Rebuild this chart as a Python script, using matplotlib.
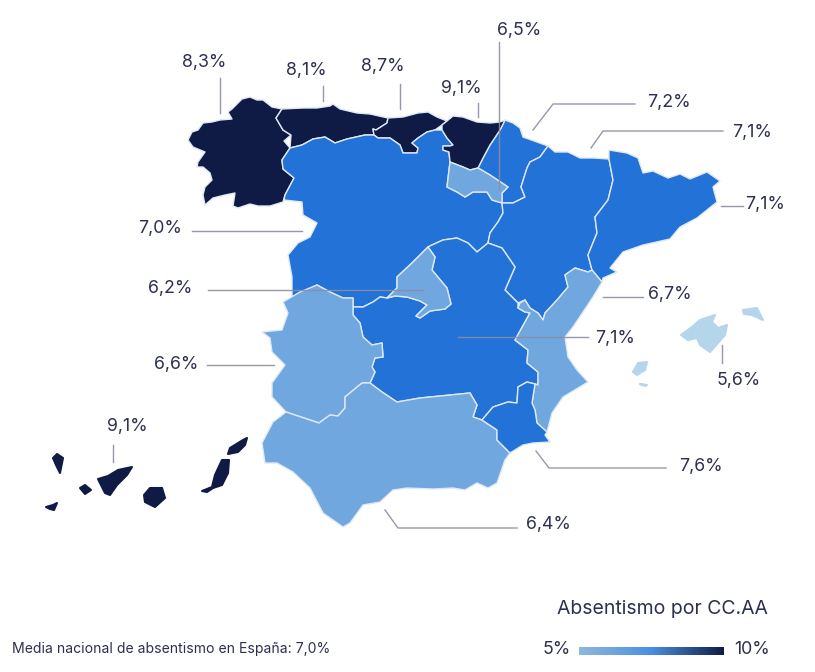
import matplotlib
matplotlib.use("Agg")
import matplotlib.pyplot as plt
import numpy as np
from matplotlib.colors import BoundaryNorm, LinearSegmentedColormap, ListedColormap
from matplotlib.patches import Polygon

plt.rcParams['font.family'] = ['Inter', 'DejaVu Sans']

# valores por comunidad
galicia = 8.3
asturias = 8.1
cantabria = 8.7
pais_vasco = 9.1
rioja = 6.5
navarra = 7.2
aragon = 7.1
cataluna = 7.1
castilla_leon = 7.0
madrid = 6.2
valencia = 6.7
castilla_mancha = 7.1
extremadura = 6.6
baleares = 5.6
murcia = 7.6
andalucia = 6.4
canarias = 9.1

galicia_xy = [(228,112),(232,109),(242,99),(250,97),(257,100),(263,100),(272,107),(282,109),(276,118),(283,130),(291,135),(284,141),(290,148),(282,160),(283,169),(294,178),(285,195),(283,202),(270,206),(258,206),(250,204),(238,208),(233,206),(235,193),(225,195),(213,198),(205,205),(203,195),(205,187),(212,180),(210,173),(203,167),(197,167),(198,162),(205,152),(193,147),(188,140),(192,132),(198,130),(203,123),(212,122),(220,120),(232,119)]
asturias_xy = [(282,109),(303,108),(317,108),(330,106),(333,104),(340,109),(357,113),(370,114),(388,118),(387,123),(376,130),(373,129),(374,135),(365,135),(347,139),(335,143),(325,137),(313,139),(302,145),(290,148),(291,135),(283,130),(276,118)]
cantabria_xy = [(388,118),(403,117),(418,113),(428,112),(437,117),(447,121),(442,125),(435,130),(427,132),(418,138),(412,143),(418,148),(417,153),(403,153),(400,145),(390,138),(378,138),(374,135),(373,129),(376,130),(387,123)]
pais_vasco_xy = [(447,121),(453,116),(463,117),(477,122),(490,123),(500,122),(505,120),(500,130),(490,145),(483,158),(478,168),(470,170),(463,167),(450,162),(449,152),(443,150),(443,146),(450,146),(453,145),(447,138),(442,130),(442,125)]
rioja_xy = [(450,162),(463,167),(470,170),(478,168),(490,175),(508,187),(502,193),(502,203),(492,200),(487,192),(473,192),(465,197),(457,192),(447,187),(449,170)]
navarra_xy = [(505,120),(513,123),(520,128),(523,137),(537,142),(548,146),(540,157),(530,162),(527,168),(521,187),(525,197),(513,203),(502,203),(502,193),(508,187),(490,175),(478,168),(483,158),(490,145),(500,130)]
aragon_xy = [(548,146),(555,152),(568,152),(580,158),(593,158),(609,159),(613,180),(608,200),(595,217),(597,233),(588,255),(592,270),(588,272),(575,268),(565,275),(568,287),(557,300),(545,313),(543,320),(538,313),(533,310),(530,308),(525,300),(518,303),(505,290),(515,267),(502,248),(488,243),(490,233),(498,222),(503,213),(502,203),(513,203),(525,197),(521,187),(527,168),(530,162),(540,157)]
cataluna_xy = [(609,150),(627,153),(638,158),(643,173),(653,171),(668,178),(680,174),(690,179),(707,172),(720,181),(713,187),(717,202),(697,218),(680,227),(670,239),(643,245),(623,252),(610,268),(617,272),(603,278),(602,282),(592,270),(588,255),(597,233),(595,217),(608,200),(613,180),(609,159)]
castilla_leon_xy = [(290,148),(302,145),(313,139),(325,137),(335,143),(347,139),(365,135),(374,135),(378,138),(390,138),(400,145),(403,153),(417,153),(418,148),(412,143),(418,138),(427,132),(435,130),(442,130),(447,138),(453,145),(450,146),(443,146),(443,150),(449,152),(450,162),(449,170),(447,187),(457,192),(465,197),(473,192),(487,192),(492,200),(502,203),(503,213),(498,222),(490,233),(488,243),(477,252),(468,243),(457,238),(443,240),(432,245),(428,247),(413,262),(397,277),(397,288),(387,298),(380,297),(373,302),(363,307),(353,307),(353,298),(343,298),(330,292),(317,285),(303,292),(292,297),(292,277),(288,255),(298,243),(310,237),(317,223),(303,215),(302,202),(284,200),(285,195),(294,178),(283,169),(282,160)]
madrid_xy = [(428,247),(435,257),(432,270),(447,288),(451,304),(445,309),(430,311),(420,318),(416,316),(427,305),(420,301),(407,297),(395,296),(387,298),(397,288),(397,277),(413,262)]
valencia_xy = [(602,282),(593,297),(573,327),(565,337),(568,357),(577,370),(588,382),(563,397),(552,413),(547,432),(537,423),(535,410),(532,403),(535,384),(538,385),(538,372),(527,363),(528,350),(515,340),(530,313),(525,312),(518,308),(520,303),(525,300),(530,308),(533,310),(538,313),(543,320),(545,313),(557,300),(568,287),(565,275),(575,268),(588,272),(592,270)]
castilla_mancha_xy = [(432,245),(443,240),(457,238),(468,243),(477,252),(488,243),(502,248),(515,267),(505,290),(518,303),(518,308),(525,312),(530,313),(515,340),(528,350),(527,363),(538,372),(538,385),(535,384),(527,382),(518,387),(517,403),(508,402),(493,407),(482,420),(473,417),(477,405),(470,393),(440,396),(420,398),(397,402),(382,392),(370,383),(375,372),(372,367),(375,358),(383,357),(382,343),(372,345),(363,337),(360,323),(353,315),(353,307),(363,307),(373,302),(380,297),(387,298),(395,296),(407,297),(420,301),(427,305),(416,316),(420,318),(430,311),(445,309),(451,304),(447,288),(432,270),(435,257),(428,247)]
extremadura_xy = [(353,298),(353,315),(360,323),(363,337),(372,345),(382,343),(383,357),(375,358),(372,367),(375,372),(370,383),(362,383),(345,397),(345,408),(338,416),(330,415),(319,423),(307,419),(295,415),(286,412),(272,397),(272,383),(285,365),(272,352),(270,338),(262,332),(282,330),(288,313),(283,302),(300,292),(317,285),(330,292),(343,298)]
murcia_xy = [(482,420),(493,407),(508,402),(517,403),(518,387),(527,382),(535,384),(532,403),(535,410),(537,423),(547,432),(545,435),(550,442),(533,443),(523,445),(510,453),(497,440),(497,430)]
andalucia_xy = [(370,383),(382,392),(397,402),(420,398),(440,396),(470,393),(477,405),(473,417),(482,420),(497,430),(497,440),(510,453),(505,460),(497,483),(488,488),(477,483),(465,490),(453,488),(433,489),(407,488),(393,490),(380,502),(363,505),(350,523),(343,527),(323,513),(310,488),(293,472),(277,463),(265,463),(262,443),(273,422),(286,412),(295,415),(307,419),(319,423),(330,415),(338,416),(345,408),(345,397),(362,383)]

mallorca_xy = [(681,335),(692,327),(700,320),(715,315),(712,322),(718,328),(727,325),(725,335),(710,352),(700,345),(697,338),(688,340)]
menorca_xy = [(743,310),(757,308),(763,320),(752,315),(744,314)]
ibiza_xy = [(633,372),(638,363),(647,362),(645,370),(637,375)]
formentera_xy = [(640,384),(647,385),(645,386)]

la_palma_xy = [(53,458),(57,454),(63,458),(60,473),(56,465)]
gomera_xy = [(80,488),(85,485),(91,490),(85,494)]
hierro_xy = [(46,507),(53,505),(57,503),(54,510),(50,509)]
tenerife_xy = [(98,479),(108,476),(118,470),(132,467),(127,475),(117,485),(110,495),(105,493)]
gran_canaria_xy = [(150,488),(162,488),(165,498),(155,507),(145,502),(144,495)]
fuerteventura_xy = [(222,460),(229,460),(228,473),(222,485),(213,488),(207,492),(202,491),(212,487),(215,475)]
lanzarote_xy = [(230,448),(243,440),(247,438),(245,445),(238,452),(228,454)]

regiones = [
    (galicia, galicia_xy), (asturias, asturias_xy), (cantabria, cantabria_xy),
    (navarra, navarra_xy), (castilla_leon, castilla_leon_xy), (pais_vasco, pais_vasco_xy),
    (aragon, aragon_xy), (cataluna, cataluna_xy), (castilla_mancha, castilla_mancha_xy),
    (rioja, rioja_xy), (madrid, madrid_xy), (valencia, valencia_xy),
    (extremadura, extremadura_xy), (andalucia, andalucia_xy), (murcia, murcia_xy),
]
islas = [
    (baleares, mallorca_xy), (baleares, menorca_xy), (baleares, ibiza_xy), (baleares, formentera_xy),
    (canarias, la_palma_xy), (canarias, gomera_xy), (canarias, hierro_xy), (canarias, tenerife_xy),
    (canarias, gran_canaria_xy), (canarias, fuerteventura_xy), (canarias, lanzarote_xy),
]

# etiqueta, posicion del texto y linea guia
etiquetas = [
    (galicia, 204, 62, [(220, 78), (220, 113)]),
    (asturias, 306, 71, [(323, 86), (323, 101)]),
    (cantabria, 383, 66, [(400, 84), (400, 109)]),
    (pais_vasco, 461, 89, [(478, 103), (478, 117)]),
    (rioja, 519, 30, [(499, 42), (499, 189)]),
    (navarra, 669, 103, [(533, 130), (553, 104), (635, 104)]),
    (aragon, 752, 132, [(591, 148), (603, 131), (723, 131)]),
    (cataluna, 765, 204, [(721, 206), (743, 206)]),
    (castilla_leon, 160, 228, [(192, 231), (302, 231)]),
    (madrid, 170, 289, [(208, 290), (423, 290)]),
    (valencia, 670, 295, [(603, 297), (643, 297)]),
    (castilla_mancha, 615, 339, [(458, 337), (588, 337)]),
    (extremadura, 176, 365, [(207, 365), (274, 365)]),
    (baleares, 739, 380, [(722, 345), (722, 363)]),
    (murcia, 701, 466, [(536, 451), (549, 468), (666, 468)]),
    (andalucia, 548, 525, [(385, 510), (398, 528), (517, 528)]),
    (canarias, 127, 426, [(113, 445), (113, 462)]),
]

tramos = [5, 6, 7, 8, 10]
colores = ['#b5d5ea', '#70a7df', '#2272d7', '#101b45']
norm = BoundaryNorm(tramos, len(colores))
cmap = ListedColormap(colores)
TEXTO = '#2d3050'
GUIA = '#8a8da3'

fig = plt.figure(figsize=(8.15, 6.72), dpi=100)
ax = fig.add_axes([0, 0, 1, 1])
ax.set_xlim(0, 815)
ax.set_ylim(672, 0)
ax.axis('off')

for valor, xy in regiones:
    ax.add_patch(Polygon(xy, closed=True, facecolor=cmap(norm(valor)), edgecolor='#dfe9f5', linewidth=1, joinstyle='round'))
for valor, xy in islas:
    color = cmap(norm(valor))
    ax.add_patch(Polygon(xy, closed=True, facecolor=color, edgecolor=color, linewidth=1.5, joinstyle='round'))

for valor, x, y, guia in etiquetas:
    ax.text(x, y, f'{valor:.1f}%'.replace('.', ','), fontsize=12.8, color=TEXTO, ha='center', va='center')
    xs, ys = zip(*guia)
    ax.plot(xs, ys, color=GUIA, lw=1, alpha=0.9)

# leyenda
degradado = LinearSegmentedColormap.from_list('abs', ['#8fb8dc', '#4a8fe0', '#101b45'])
ax.imshow(np.linspace(0, 1, 256).reshape(1, -1), cmap=degradado, extent=(579, 724, 655, 647), aspect='auto', zorder=2)
ax.set_xlim(0, 815)
ax.set_ylim(672, 0)
ax.text(662, 609, 'Absentismo por CC.AA', fontsize=14, color=TEXTO, ha='center', va='center')
ax.text(557, 650, '5%', fontsize=12.8, color=TEXTO, ha='center', va='center')
ax.text(752, 650, '10%', fontsize=12.8, color=TEXTO, ha='center', va='center')
ax.text(12, 649, 'Media nacional de absentismo en España: 7,0%', fontsize=10.1, color=TEXTO, ha='left', va='center')

fig.savefig('out.png', dpi=100)
